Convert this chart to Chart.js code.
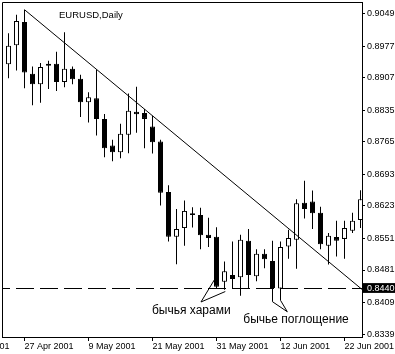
<!DOCTYPE html>
<html>
<head>
<meta charset="utf-8">
<script src="https://cdn.jsdelivr.net/npm/chart.js@4.4.1/dist/chart.umd.min.js"></script>
<style>
  html, body { margin: 0; padding: 0; background: #fff; }
</style>
</head>
<body>
<canvas id="chart" width="395" height="354"></canvas>
<script>
// daily bars, EURUSD
const days = ['25 Apr','26 Apr','27 Apr','30 Apr','1 May','2 May','3 May','4 May','7 May','8 May',
  '9 May','10 May','11 May','14 May','15 May','16 May','17 May','18 May','21 May','22 May',
  '23 May','24 May','25 May','28 May','29 May','30 May','31 May','1 Jun','4 Jun','5 Jun',
  '6 Jun','7 Jun','8 Jun','11 Jun','12 Jun','13 Jun','14 Jun','15 Jun','18 Jun','19 Jun',
  '20 Jun','21 Jun','22 Jun','25 Jun','26 Jun'];

const opens  = [0.8937,0.8979,0.9031,0.8916,0.8893,0.8938,0.8938,0.8898,0.8927,0.8905,
  0.8853,0.8862,0.8816,0.8757,0.8742,0.8781,0.8832,0.8829,0.8799,0.8766,
  0.8654,0.8555,0.8574,0.8607,0.8603,0.8559,0.8555,0.8455,0.8470,0.8465,
  0.8546,0.8467,0.8517,0.8501,0.8440,0.8533,0.8548,0.8630,0.8633,0.8608,
  0.8535,0.8554,0.8550,0.8568,0.8592];
const highs  = [0.9006,0.9047,0.9058,0.8932,0.8940,0.8945,0.8965,0.9008,0.8932,0.8914,
  0.8875,0.8925,0.8827,0.8770,0.8805,0.8872,0.8887,0.8838,0.8823,0.8770,
  0.8669,0.8616,0.8635,0.8620,0.8619,0.8597,0.8576,0.8500,0.8544,0.8559,
  0.8572,0.8527,0.8527,0.8546,0.8544,0.8570,0.8638,0.8679,0.8657,0.8621,
  0.8563,0.8590,0.8590,0.8608,0.8658];
const lows   = [0.8906,0.8923,0.8884,0.8846,0.8852,0.8882,0.8878,0.8886,0.8893,0.8820,
  0.8808,0.8779,0.8731,0.8722,0.8729,0.8740,0.8785,0.8751,0.8739,0.8624,
  0.8544,0.8494,0.8535,0.8575,0.8527,0.8532,0.8441,0.8437,0.8441,0.8424,
  0.8441,0.8456,0.8485,0.8440,0.8439,0.8506,0.8484,0.8595,0.8572,0.8527,
  0.8493,0.8511,0.8506,0.8563,0.8574];
const closes = [0.8978,0.9033,0.8919,0.8893,0.8931,0.8934,0.8898,0.8927,0.8904,0.8853,
  0.8864,0.8816,0.8751,0.8742,0.8783,0.8834,0.8826,0.8816,0.8764,0.8652,
  0.8555,0.8572,0.8612,0.8603,0.8558,0.8552,0.8444,0.8478,0.8461,0.8548,
  0.8470,0.8517,0.8505,0.8441,0.8532,0.8552,0.8629,0.8616,0.8607,0.8538,
  0.8557,0.8546,0.8574,0.8590,0.8638];

const xTickAt   = [-6, 2, 10, 18, 26, 34, 42];
const xTickText = ['17 Apr 2001','27 Apr 2001','9 May 2001','21 May 2001','31 May 2001','12 Jun 2001','22 Jun 2001'];
const yTicks    = [0.9049,0.8977,0.8907,0.8835,0.8765,0.8693,0.8623,0.8551,0.8481,0.8440,0.8409,0.8339];

const supportLevel = 0.8440;
const trendFrom = [2, 0.9058];
const trendTo   = [44.19, 0.8438];

// pattern notes (bar index, price)
const haramiText = 'бычья харами';
const haramiAt   = [22.85, 0.83908];
const haramiLegs = [[[25.72, 0.84588], [24.06, 0.84101]], [[27.1, 0.84333], [24.06, 0.84101]]];
const engulfText = 'бычье поглощение';
const engulfAt   = [35.94, 0.83701];
const engulfLegs = [[[33, 0.8440], [33, 0.84107], [34.85, 0.83885]], [[34, 0.8439], [34, 0.84138], [34.85, 0.83885]]];

const xMin = -0.8125, xMax = 44.1875;
const yMin = 0.83325, yMax = 0.90751;

Chart.defaults.font.family = '"Liberation Sans", Arial, sans-serif';
Chart.defaults.font.size = 9;
Chart.defaults.color = '#000';

// frame, title and the pattern notes
const marks = {
  id: 'marks',
  afterDatasetsDraw(chart) {
    const { ctx, chartArea: a, scales: { x, y } } = chart;
    const pt = p => [x.getPixelForValue(p[0]), y.getPixelForValue(p[1])];
    ctx.save();
    ctx.strokeStyle = '#000';
    ctx.lineWidth = 1;
    ctx.beginPath();
    ctx.moveTo(a.left + 0.5, a.bottom);
    ctx.lineTo(a.left + 0.5, a.top + 0.5);
    ctx.lineTo(a.right, a.top + 0.5);
    ctx.stroke();

    [...haramiLegs, ...engulfLegs].forEach(leg => {
      ctx.beginPath();
      leg.forEach((p, i) => {
        const [px, py] = pt(p);
        if (i === 0) ctx.moveTo(px, py); else ctx.lineTo(px, py);
      });
      ctx.stroke();
    });

    ctx.fillStyle = '#000';
    ctx.textBaseline = 'middle';
    ctx.font = '9.5px "Liberation Sans"';
    ctx.fillText('EURUSD,Daily', a.left + 57, a.top + 13);

    ctx.font = '12px "Liberation Sans"';
    ctx.textAlign = 'center';
    let p = pt(haramiAt);
    ctx.fillText(haramiText, p[0], p[1]);
    p = pt(engulfAt);
    ctx.fillText(engulfText, p[0], p[1]);
    ctx.restore();
  }
};

new Chart(document.getElementById('chart'), {
  type: 'bar',
  data: {
    datasets: [
      {
        type: 'line', label: 'trend', order: 0,
        data: [{ x: trendFrom[0], y: trendFrom[1] }, { x: trendTo[0], y: trendTo[1] }],
        borderColor: '#000', borderWidth: 1, pointRadius: 0, fill: false
      },
      {
        type: 'line', label: 'support', order: 0,
        data: [{ x: xMin, y: supportLevel }, { x: xMax, y: supportLevel }],
        borderColor: '#000', borderWidth: 1, pointRadius: 0, fill: false,
        borderDash: [18, 6], borderDashOffset: 10
      },
      {
        label: 'body', order: 1,
        data: opens.map((o, i) => ({ x: i, y: [o, closes[i]] })),
        backgroundColor: opens.map((o, i) => closes[i] >= o ? '#fff' : '#000'),
        borderColor: '#000', borderWidth: 1, borderSkipped: false,
        barThickness: 5, grouped: false, inflateAmount: 0
      },
      {
        label: 'wick', order: 2,
        data: lows.map((l, i) => ({ x: i, y: [l, highs[i]] })),
        backgroundColor: '#000', borderWidth: 0,
        barThickness: 1, grouped: false, inflateAmount: 0
      }
    ]
  },
  options: {
    responsive: false,
    animation: false,
    layout: { padding: { left: 2, top: 2, right: 0, bottom: 0 } },
    plugins: {
      legend: { display: false },
      tooltip: {
        callbacks: { title: items => days[items[0].parsed.x] }
      }
    },
    scales: {
      x: {
        type: 'linear', min: xMin, max: xMax, offset: false, bounds: 'data',
        grid: { offset: false, drawOnChartArea: false, drawTicks: true, tickLength: 4, tickColor: '#000' },
        border: { display: true, color: '#000' },
        ticks: {
          autoSkip: false, maxRotation: 0, minRotation: 0, align: 'start', padding: 0,
          callback: (v, i) => xTickText[i]
        },
        afterBuildTicks: s => { s.ticks = xTickAt.map(v => ({ value: v })); },
        afterFit: s => { s.height = 17; s.paddingLeft = 0; s.paddingRight = 0; }
      },
      y: {
        position: 'right', min: yMin, max: yMax, bounds: 'data',
        grid: { drawOnChartArea: false, drawTicks: true, tickLength: 3, tickColor: '#000' },
        border: { display: true, color: '#000' },
        ticks: {
          autoSkip: false, padding: 2,
          callback: v => v.toFixed(4),
          color: c => c.tick && c.tick.value === supportLevel ? '#fff' : '#000',
          showLabelBackdrop: c => !!(c.tick && c.tick.value === supportLevel),
          backdropColor: '#000',
          backdropPadding: { left: 4, right: 6, top: 0, bottom: -1 }
        },
        afterBuildTicks: s => { s.ticks = yTicks.map(v => ({ value: v })); },
        afterFit: s => { s.width = 33; s.paddingTop = 0; s.paddingBottom = 0; }
      }
    }
  },
  plugins: [marks]
});
</script>
</body>
</html>
